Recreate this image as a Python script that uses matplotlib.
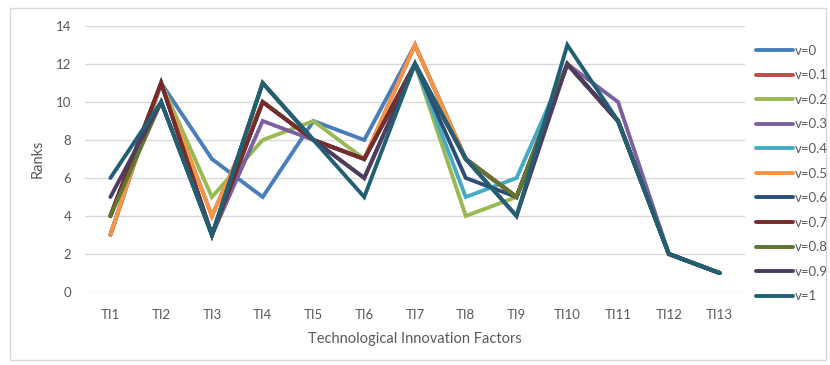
import matplotlib
matplotlib.use("Agg")
import matplotlib.pyplot as plt
from matplotlib.patches import Rectangle

plt.rcParams['font.family'] = ['Lato', 'DejaVu Sans']

categories = ["TI1", "TI2", "TI3", "TI4", "TI5", "TI6", "TI7", "TI8", "TI9", "TI10", "TI11", "TI12", "TI13"]
series_names = ["v=0", "v=0.1", "v=0.2", "v=0.3", "v=0.4", "v=0.5", "v=0.6", "v=0.7", "v=0.8", "v=0.9", "v=1"]

v0  = [3, 11, 7, 5, 9, 8, 13, 7, 5, 12, 9, 2, 1]
v01 = [3, 11, 4, 10, 8, 7, 13, 7, 5, 12, 9, 2, 1]
v02 = [4, 11, 5, 8, 9, 7, 12, 4, 5, 12, 9, 2, 1]
v03 = [4, 11, 3, 9, 8, 7, 12, 7, 5, 12, 10, 2, 1]
v04 = [3, 11, 3, 10, 8, 7, 12, 5, 6, 12, 9, 2, 1]
v05 = [3, 11, 4, 10, 8, 7, 13, 7, 5, 12, 9, 2, 1]
v06 = [4, 11, 3, 10, 8, 7, 12, 6, 5, 12, 9, 2, 1]
v07 = [4, 11, 3, 10, 8, 7, 12, 7, 5, 12, 9, 2, 1]
v08 = [4, 10, 3, 11, 8, 6, 12, 7, 5, 12, 9, 2, 1]
v09 = [5, 10, 3, 11, 8, 6, 12, 7, 4, 12, 9, 2, 1]
v1  = [6, 10, 3, 11, 8, 5, 12, 7, 4, 13, 9, 2, 1]

series_values = [v0, v01, v02, v03, v04, v05, v06, v07, v08, v09, v1]
colors = ["#4A7EBB", "#BE4B48", "#98B954", "#7D60A0", "#46AAC5", "#F69544",
          "#2C4D75", "#772C2A", "#5F7530", "#4D3B62", "#215F74"]

fig = plt.figure(figsize=(8.3, 3.65), dpi=100)
ax = fig.add_axes([85/830, 1-292/365, 660/830, 266/365])

x = list(range(len(categories)))
handles = []
for name, vals, c in zip(series_names, series_values, colors):
    h, = ax.plot(x, vals, color=c, linewidth=2.8, label=name,
                 solid_joinstyle='miter', solid_capstyle='round')
    handles.append(h)

ax.set_xlim(-0.5, len(categories)-0.5)
ax.set_ylim(0, 14)
ax.set_yticks(range(0, 15, 2))
ax.set_xticks(x)
ax.set_xticklabels(categories)
ax.tick_params(axis='x', length=0, labelsize=9.5, colors='#595959', pad=12)
ax.tick_params(axis='y', length=0, labelsize=9.5, colors='#595959', pad=10)
ax.grid(axis='y', color='#D9D9D9', linewidth=1)
ax.set_axisbelow(True)
for s in ax.spines.values():
    s.set_visible(False)

ax.set_ylabel("Ranks", fontsize=10.5, color='#595959', labelpad=8)
ax.set_xlabel("Technological Innovation Factors", fontsize=10.5, color='#595959', labelpad=8)

leg = fig.legend(handles=handles, loc='upper left', bbox_to_anchor=(744/830, 1-33/365),
                 frameon=False, fontsize=9.5, handlelength=2.8, handletextpad=0.15,
                 labelspacing=0.95, labelcolor='#595959')

fig.patches.append(Rectangle((10/830, 5/365), 816/830, 352/365, transform=fig.transFigure,
                             fill=False, edgecolor='#D9D9D9', linewidth=1))

fig.savefig("out.png", dpi=100)
